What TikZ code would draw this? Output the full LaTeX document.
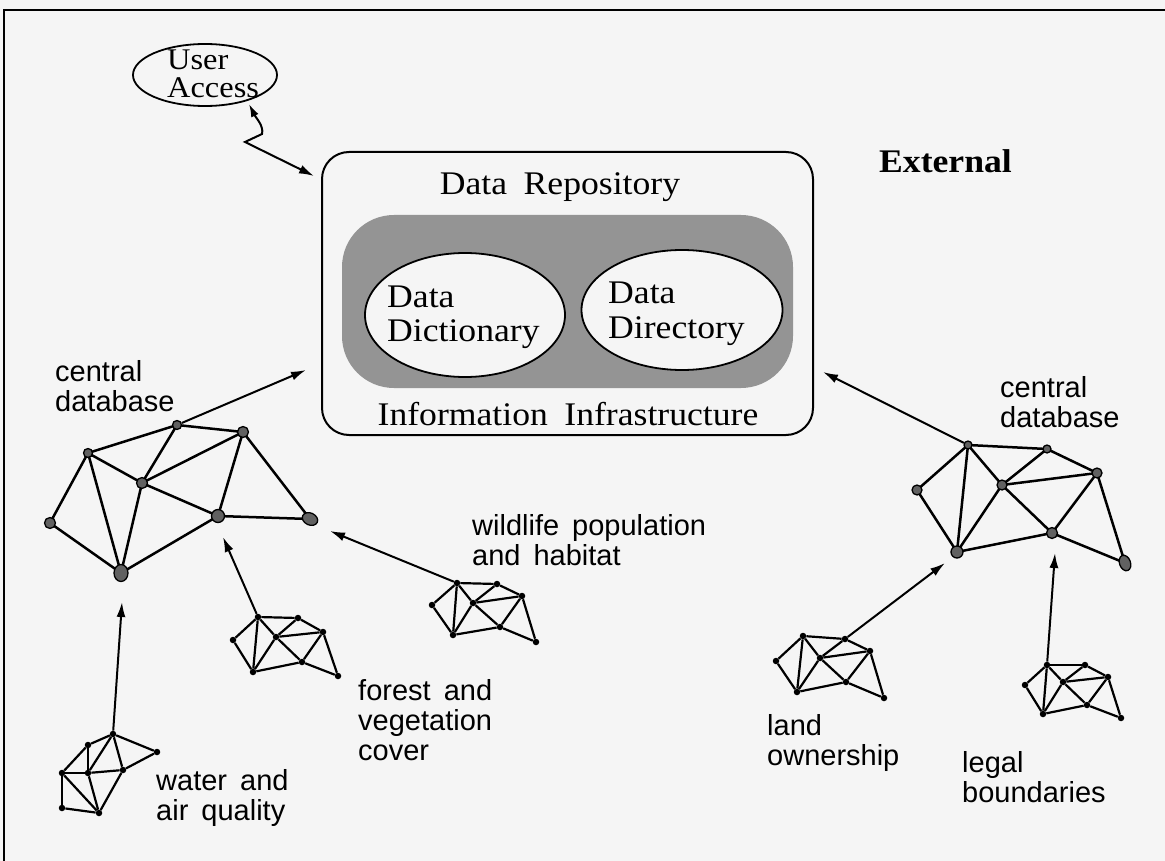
\documentclass[tikz,border=0pt]{standalone}
\usepackage{fontspec}
\setmainfont[FakeStretch=1.08]{Liberation Serif}
\newfontfamily\lblfont{Liberation Sans}
\usetikzlibrary{arrows.meta,shapes.geometric}
\newcommand\tmpledges[1]{\foreach \a/\b in {1/2,1/3,1/6,1/4,2/4,2/5,4/5,4/6,4/7,7/5,5/8,3/6,6/7,7/8} \draw[edge] (#1\a) -- (#1\b);}
\newcommand\serifsz[1]{\fontsize{#1}{#1}\selectfont\spaceskip=0.5em plus 0.1em\relax}
\newcommand\sanslbl{\lblfont\fontsize{29}{30}\selectfont\spaceskip=0.45em plus 0.1em\relax}
\tikzset{
  edge/.style={line width=2.2pt},
  bigedge/.style={line width=2.5pt},
  arr/.style={line width=2pt,-{Latex[length=15pt,width=9pt]}},
  bignode/.style={circle,draw,line width=1.3pt,fill=black!62,inner sep=0pt,minimum size=#1},
  bigoval/.style={ellipse,draw,line width=1.3pt,fill=black!62,inner sep=0pt},
  dot/.style={circle,fill=black,inner sep=0pt,minimum size=6.5pt},
  lbl/.style={anchor=base west,inner sep=0pt,font=\sanslbl},
  slbl/.style={anchor=base west,inner sep=0pt},
}
\begin{document}
\begin{tikzpicture}[x=1pt,y=-1pt]
\useasboundingbox (0,0) rectangle (1165,861);
\fill[black!4] (0,0) rectangle (1165,861);
% frame
\draw[line width=2pt] (4,861) -- (4,10) -- (1165,10);

% User access
\node[ellipse,draw,line width=1.8pt,minimum width=144pt,minimum height=62pt,inner sep=0pt] (ua) at (205,75) {};
\node[slbl] (uatxt) at (167,70) {\serifsz{30}\baselineskip=28pt\vtop{\hbox{User}\hbox{Access}}};

% central repository
\node[draw,line width=2pt,rounded corners=27pt,minimum width=491pt,minimum height=283pt,inner sep=0pt] (repo) at (567.5,293.5) {};
\node[fill=black!42,rounded corners=52pt,minimum width=451pt,minimum height=173pt,inner sep=0pt] (infra) at (567.5,301.5) {};
\node[ellipse,draw,line width=1.8pt,fill=black!4,minimum width=200pt,minimum height=124pt,inner sep=0pt] (dict) at (465,315) {};
\node[ellipse,draw,line width=1.8pt,fill=black!4,minimum width=201pt,minimum height=120pt,inner sep=0pt] (dir) at (682,310) {};
\node[anchor=base,inner sep=0pt] (reptxt) at (560,195) {\serifsz{33}Data Repository};
\node[slbl] (dicttxt) at (387,307) {\serifsz{33}\baselineskip=35pt\vtop{\hbox{Data}\hbox{Dictionary}}};
\node[slbl] (dirtxt) at (608,303) {\serifsz{33}\baselineskip=35pt\vtop{\hbox{Data}\hbox{Directory}}};
\node[anchor=base,inner sep=0pt] (inftxt) at (568,425) {\serifsz{33}Information Infrastructure};
\node[slbl] (ext) at (879,173) {\serifsz{33}\bfseries External};

% user access zigzag
\coordinate (uatip) at (249,104);
\coordinate (z1) at (262,134);
\coordinate (z2) at (245,142);
\coordinate (boxtip) at (314,176);
\draw[line width=2pt,{Latex[length=13pt,width=8pt]}-{Latex[length=15pt,width=9pt]}] (uatip) .. controls (256,118) and (264,126) .. (z1) -- (z2) -- (boxtip);

% left central database
\foreach \n/\x/\y in {1/177/425,2/243/432,3/88/453,4/142/483,5/50/523,6/218/516}
  \coordinate (L\n) at (\x,\y);
\coordinate (L7) at (310,519);
\coordinate (L8) at (121,573);
\foreach \a/\b in {1/3,1/2,1/4,2/4,3/4,3/5,3/8,4/8,4/6,2/6,2/7,6/7,5/8,8/6}
  \draw[bigedge] (L\a) -- (L\b);
\node[bignode=9pt] (LA) at (L1) {};
\node[bignode=11pt] (LB) at (L2) {};
\node[bignode=9pt] (LC) at (L3) {};
\node[bignode=11pt] (LD) at (L4) {};
\node[bignode=11pt] (LE) at (L5) {};
\node[bignode=13pt] (LF) at (L6) {};
\node[bigoval,minimum width=16pt,minimum height=12pt,rotate=-25] (LG) at (L7) {};
\node[bigoval,minimum width=14pt,minimum height=17pt] (LH) at (L8) {};
\node[lbl] (lcdb) at (55,381) {\vtop{\hbox{central}\hbox{database}}};
\coordinate (ltip) at (306,370);
\draw[arr] (LA) -- (ltip);

% right central database
\foreach \n/\x/\y in {1/968/445,2/1047/449,3/917/490,4/1002/485,5/1097/473,6/957/552,7/1052/533,8/1125/563}
  \coordinate (R\n) at (\x,\y);
\foreach \a/\b in {1/2,1/3,1/6,1/4,2/4,2/5,4/5,4/6,4/7,7/5,5/8,3/6,6/7,7/8}
  \draw[bigedge] (R\a) -- (R\b);
\node[bignode=8pt] (RA) at (R1) {};
\node[bignode=8pt] (RB) at (R2) {};
\node[bignode=10pt] (RC) at (R3) {};
\node[bignode=10pt] (RD) at (R4) {};
\node[bignode=10pt] (RE) at (R5) {};
\node[bignode=12pt] (RF) at (R6) {};
\node[bignode=11pt] (RG) at (R7) {};
\node[bigoval,minimum width=11pt,minimum height=16pt,rotate=20] (RH) at (R8) {};
\node[lbl] (rcdb) at (1000,397) {\vtop{\hbox{central}\hbox{database}}};
\coordinate (rtip) at (823,372);
\draw[arr] (RA) -- (rtip);

% forest
\foreach \n/\x/\y in {1/258/617,2/298/618,3/233/640,4/276/637,5/323/632,6/253/672,7/302/662,8/338/676}
  \node[dot] (F\n) at (\x,\y) {};
\tmpledges{F}
\node[lbl] (ftxt) at (358,700) {\vtop{\hbox{forest and}\hbox{vegetation}\hbox{cover}}};
\coordinate (ftip) at (223,537);
\draw[arr] (F1) -- (ftip);

% wildlife
\foreach \n/\x/\y in {1/457/583,2/497/584,3/432/605,4/473/603,5/522/596,6/453/635,7/500/627,8/536/642}
  \node[dot] (W\n) at (\x,\y) {};
\tmpledges{W}
\node[lbl] (wtxt) at (472,535) {\vtop{\hbox{wildlife population}\hbox{and habitat}}};
\coordinate (wtip) at (330,531);
\draw[arr] (W1) -- (wtip);

% water
\foreach \n/\x/\y in {1/113/734,2/88/745,3/157/752,4/62/773,5/88/773,6/123/770,7/62/808,8/99/813}
  \node[dot] (Q\n) at (\x,\y) {};
\foreach \a/\b in {1/2,1/3,1/5,1/6,2/4,2/5,4/5,5/6,6/3,4/7,4/8,5/8,6/8,7/8}
  \draw[edge] (Q\a) -- (Q\b);
\node[lbl] (qtxt) at (156,790) {\vtop{\hbox{water and}\hbox{air quality}}};
\coordinate (qtip) at (122,602);
\draw[arr] (Q1) -- (qtip);

% land
\foreach \n/\x/\y in {1/803/636,2/845/639,3/776/661,4/820/658,5/870/651,6/797/692,7/846/682,8/884/698}
  \node[dot] (N\n) at (\x,\y) {};
\tmpledges{N}
\node[lbl] (ntxt) at (767,735) {\vtop{\hbox{land}\hbox{ownership}}};
\coordinate (ntip) at (945,563);
\draw[arr] (N2) -- (ntip);

% legal
\foreach \n/\x/\y in {1/1047/665,2/1085/665,3/1025/685,4/1063/682,5/1108/677,6/1043/714,7/1087/705,8/1121/718}
  \node[dot] (G\n) at (\x,\y) {};
\tmpledges{G}
\node[lbl] (gtxt) at (962,772) {\vtop{\hbox{legal}\hbox{boundaries}}};
\coordinate (gtip) at (1055,553);
\draw[arr] (G1) -- (gtip);
\end{tikzpicture}
\end{document}
